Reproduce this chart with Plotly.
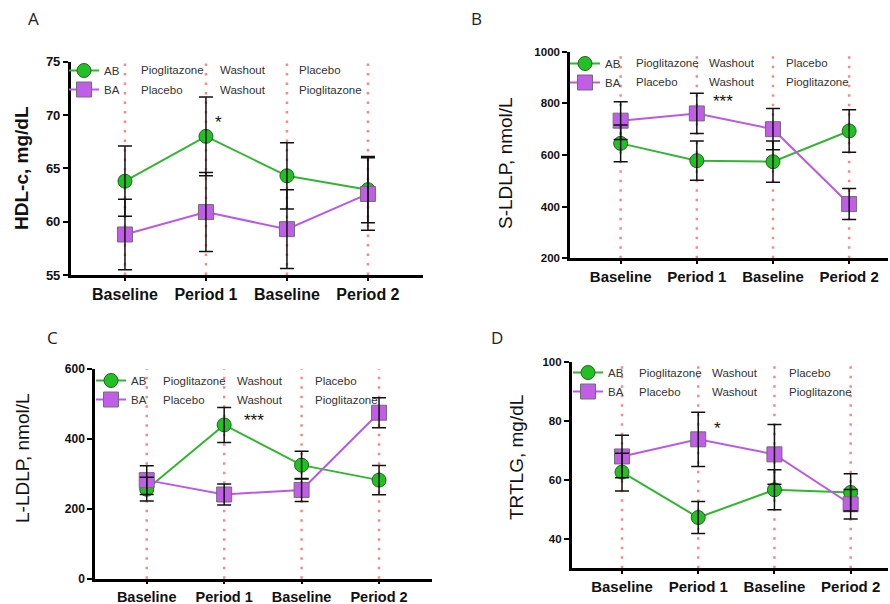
import plotly.graph_objects as go

# ---------------- data ----------------
categories = ["Baseline", "Period 1", "Baseline", "Period 2"]
groups = ["AB", "BA"]
ab_treatments = ["Pioglitazone", "Washout", "Placebo"]
ba_treatments = ["Placebo", "Washout", "Pioglitazone"]

hdl_ab = [63.8, 68.0, 64.3, 63.0]
hdl_ab_err = [3.3, 3.7, 3.1, 3.1]
hdl_ba = [58.8, 60.9, 59.3, 62.6]
hdl_ba_err = [3.3, 3.7, 3.7, 3.4]

sldlp_ab = [645, 578, 574, 693]
sldlp_ab_err = [71, 76, 80, 82]
sldlp_ba = [733, 761, 700, 410]
sldlp_ba_err = [73, 78, 80, 60]

lldlp_ab = [256, 440, 325, 282]
lldlp_ab_err = [34, 50, 40, 42]
lldlp_ba = [282, 241, 254, 475]
lldlp_ba_err = [41, 30, 33, 43]

trtlg_ab = [62.6, 47.2, 56.6, 55.7]
trtlg_ab_err = [6.4, 5.4, 6.8, 6.3]
trtlg_ba = [67.9, 73.7, 68.6, 51.7]
trtlg_ba_err = [7.2, 9.2, 10.1, 5.0]

panel_letters = ["A", "B", "C", "D"]
y_titles = ["HDL-c, mg/dL", "S-LDLP, nmol/L", "L-LDLP, nmol/L", "TRTLG, mg/dL"]
significance = ["*", "***", "***", "*"]
sig_x = [1.16, 1.35, 1.38, 1.25]
sig_y = [69.3, 806, 452, 77.4]

# ---------------- layout constants ----------------
W, H = 890, 604
FONT = "Liberation Sans, Arial, sans-serif"
GREEN_FILL, GREEN_LINE, GREEN_EDGE = "#22c022", "#33b533", "#2a5e2a"
PURPLE_FILL, PURPLE_LINE, PURPLE_EDGE = "#c05ee8", "#b95ae6", "#6e6e6e"
RED_DOT = "#f58a8a"

xpos = list(range(len(categories)))

panels = [
    dict(ab=hdl_ab, abe=hdl_ab_err, ba=hdl_ba, bae=hdl_ba_err,
         px=(70.7, 423), py=(61.7, 275), xr=[-0.67, 3.68], yr=[55, 75], dt=5, tv=None,
         tick=13, cat=16, title_bold=True, title_xy=(21, 168),
         leg=(84, 69, 90), txt_x=[0.17, 1.15, 2.12], txt_y=(0.961, 0.867),
         letter=(33, 18)),
    dict(ab=sldlp_ab, abe=sldlp_ab_err, ba=sldlp_ba, bae=sldlp_ba_err,
         px=(570, 888), py=(51.7, 258.3), xr=[-0.665, 3.51], yr=[200, 1000], dt=200, tv=None,
         tick=11.5, cat=15, title_bold=False, title_xy=(505, 163),
         leg=(585, 62, 81), txt_x=[0.18, 1.14, 2.15], txt_y=(0.947, 0.855),
         letter=(476, 18)),
    dict(ab=lldlp_ab, abe=lldlp_ab_err, ba=lldlp_ba, bae=lldlp_ba_err,
         px=(95, 431.7), py=(369, 578.7), xr=[-0.668, 3.68], yr=[0, 600], dt=200, tv=None,
         tick=12, cat=14.5, title_bold=False, title_xy=(22, 458),
         leg=(111, 379, 399), txt_x=[0.19, 1.14, 2.15], txt_y=(0.943, 0.852),
         letter=(52, 337)),
    dict(ab=trtlg_ab, abe=trtlg_ab_err, ba=trtlg_ba, bae=trtlg_ba_err,
         px=(571.7, 888), py=(361.7, 568.3), xr=[-0.66, 3.49], yr=[30, 100], dt=None,
         tv=[40, 60, 80, 100],
         tick=11.5, cat=15, title_bold=False, title_xy=(516, 458),
         leg=(588, 371, 390), txt_x=[0.2, 1.15, 2.16], txt_y=(0.944, 0.855),
         letter=(497, 337)),
]

fig = go.Figure()
annotations = []
shapes = []
layout_axes = {}

for i, p in enumerate(panels):
    n = "" if i == 0 else str(i + 1)
    xa, ya = "x" + n, "y" + n
    legname = "legend" + n
    series = [
        (groups[0], p["ab"], p["abe"], "circle", GREEN_FILL, GREEN_LINE, GREEN_EDGE),
        (groups[1], p["ba"], p["bae"], "square", PURPLE_FILL, PURPLE_LINE, PURPLE_EDGE),
    ]
    # lines + markers
    for name, vals, errs, sym, fill, lcol, edge in series:
        fig.add_trace(go.Scatter(
            x=xpos, y=vals, name=name, mode="lines+markers",
            xaxis=xa, yaxis=ya, legend=legname,
            line=dict(color=lcol, width=2),
            marker=dict(symbol=sym, size=14 if sym == "circle" else 15, color=fill,
                        line=dict(color=edge, width=1)),
        ))
    # error bars drawn on top of the markers
    for name, vals, errs, sym, fill, lcol, edge in series:
        fig.add_trace(go.Scatter(
            x=xpos, y=vals, name=name + " SE", mode="markers",
            xaxis=xa, yaxis=ya, showlegend=False, hoverinfo="skip",
            marker=dict(size=2, opacity=0),
            error_y=dict(type="data", array=errs, visible=True, color="#111111",
                         thickness=1.5, width=7),
        ))

    x0, x1 = p["px"]
    y0, y1 = p["py"]
    xaxis = dict(domain=[x0 / W, x1 / W], anchor=ya, range=p["xr"],
                 tickmode="array", tickvals=xpos, ticktext=categories,
                 showline=True, linecolor="black", linewidth=2.5,
                 ticks="outside", ticklen=3, tickwidth=2, tickcolor="black",
                 showgrid=False, zeroline=False, automargin=False,
                 tickfont=dict(family=FONT, size=p["cat"], color="#111111", weight="bold"))
    yaxis = dict(domain=[1 - y1 / H, 1 - y0 / H], anchor=xa, range=p["yr"],
                 showline=True, linecolor="black", linewidth=2.5,
                 ticks="outside", ticklen=5, tickwidth=2, tickcolor="black",
                 showgrid=False, zeroline=False, automargin=False,
                 tickfont=dict(family=FONT, size=p["tick"], color="#111111", weight="bold"))
    if p["tv"] is not None:
        yaxis.update(tickmode="array", tickvals=p["tv"])
    else:
        yaxis.update(dtick=p["dt"], tick0=p["yr"][0])
    layout_axes["xaxis" + n] = xaxis
    layout_axes["yaxis" + n] = yaxis

    # red dotted vertical guide lines at each time point
    for xv in xpos:
        shapes.append(dict(type="line", xref=xa, yref=ya + " domain", x0=xv, x1=xv,
                           y0=0, y1=1, layer="below",
                           line=dict(color=RED_DOT, width=2.5, dash="2.5px,7px")))

    # treatment labels
    for row, labels in enumerate([ab_treatments, ba_treatments]):
        for tx, lab in zip(p["txt_x"], labels):
            annotations.append(dict(x=tx, y=p["txt_y"][row], xref=xa, yref=ya + " domain",
                                    text=lab, showarrow=False, xanchor="left", yanchor="middle",
                                    font=dict(family=FONT, size=11.5, color="#333333")))
    # significance
    annotations.append(dict(x=sig_x[i], y=sig_y[i], xref=xa, yref=ya, text=significance[i],
                            showarrow=False, xanchor="center", yanchor="middle",
                            font=dict(family=FONT, size=17, color="#111111")))
    # y title
    tx, ty = p["title_xy"]
    annotations.append(dict(x=tx / W, y=1 - ty / H, xref="paper", yref="paper",
                            text=y_titles[i], textangle=-90, showarrow=False,
                            xanchor="center", yanchor="middle",
                            font=dict(family=FONT, size=19, color="#111111",
                                      weight="bold" if p["title_bold"] else "normal")))
    # panel letter
    lx, ly = p["letter"]
    annotations.append(dict(x=lx / W, y=1 - ly / H, xref="paper", yref="paper",
                            text=panel_letters[i], showarrow=False,
                            xanchor="center", yanchor="middle",
                            font=dict(family="Open Sans, Liberation Sans, sans-serif",
                                      size=17, color="#222222")))
    # legend
    mx, my1, my2 = p["leg"]
    layout_axes[legname] = dict(
        x=(mx - 20) / W, y=1 - (my1 - 13) / H, xref="paper", yref="paper",
        xanchor="left", yanchor="top", bgcolor="rgba(0,0,0,0)",
        font=dict(family=FONT, size=11.5, color="#333333"),
        tracegroupgap=0, itemwidth=30,
    )

fig.update_layout(
    width=W, height=H, margin=dict(l=0, r=0, t=0, b=0, autoexpand=False),
    paper_bgcolor="white", plot_bgcolor="white",
    showlegend=True,
    annotations=annotations, shapes=shapes,
    **layout_axes,
)

fig.write_html(
    "out.html",
    config={"displayModeBar": False},
    post_script="document.body.style.margin='0';document.body.style.padding='0';"
                "document.documentElement.style.overflow='hidden';",
)
